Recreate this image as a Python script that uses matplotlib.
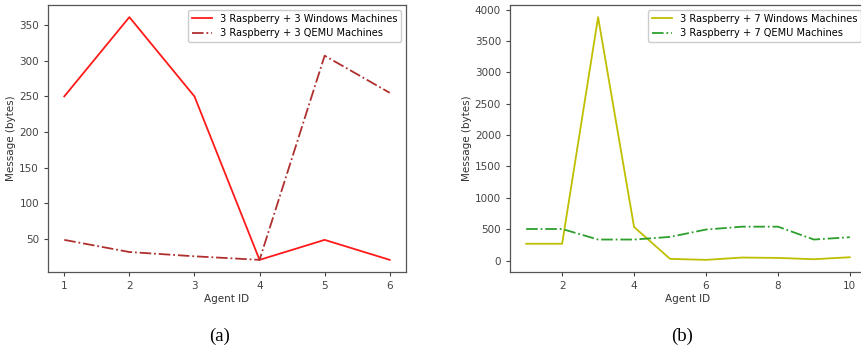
import matplotlib
matplotlib.use("Agg")
import matplotlib.pyplot as plt

# ---- data ----
agents_a = [1, 2, 3, 4, 5, 6]
win_a = [250, 361, 250, 21, 49, 21]
qemu_a = [49, 32, 26, 21, 307, 255]

agents_b = [1, 2, 3, 4, 5, 6, 7, 8, 9, 10]
win_b = [268, 268, 3880, 535, 27, 11, 48, 42, 21, 53]
qemu_b = [503, 503, 335, 335, 377, 494, 540, 540, 335, 372]

labels_a = ["3 Raspberry + 3 Windows Machines", "3 Raspberry + 3 QEMU Machines"]
labels_b = ["3 Raspberry + 7 Windows Machines", "3 Raspberry + 7 QEMU Machines"]

plt.rcParams['font.family'] = ['DejaVu Sans']
plt.rcParams['axes.edgecolor'] = '#555555'
plt.rcParams['xtick.color'] = '#444444'
plt.rcParams['ytick.color'] = '#444444'

W, H = 862, 348
fig = plt.figure(figsize=(W / 100, H / 100), dpi=100)

def box(x0, y0, x1, y1):
    return [x0 / W, 1 - y1 / H, (x1 - x0) / W, (y1 - y0) / H]

ax1 = fig.add_axes(box(48, 5, 406, 272))
ax2 = fig.add_axes(box(510, 5, 866, 272))

ax1.plot(agents_a, win_a, color='#ff1a1a', lw=1.3, label=labels_a[0])
ax1.plot(agents_a, qemu_a, color='#b03030', lw=1.3, ls='-.', label=labels_a[1])
ax1.set_xticks(agents_a)

ax2.plot(agents_b, win_b, color='#bfbf00', lw=1.3, label=labels_b[0])
ax2.plot(agents_b, qemu_b, color='#2ca02c', lw=1.3, ls='-.', label=labels_b[1])
ax2.set_xticks([2, 4, 6, 8, 10])
ax2.set_yticks(range(0, 4001, 500))

for ax in (ax1, ax2):
    ax.set_xlabel("Agent ID", fontsize=7.5, color='#333333', labelpad=2)
    ax.set_ylabel("Message (bytes)", fontsize=7.5, color='#333333', labelpad=2)
    ax.tick_params(labelsize=7.5, length=3, width=0.8)
    for s in ax.spines.values():
        s.set_linewidth(0.9)
    ax.legend(loc='upper right', fontsize=7.1, framealpha=1, edgecolor='#cccccc',
              fancybox=True, handlelength=2.0, borderpad=0.4, labelspacing=0.45)

fig.text(220 / W, 1 - 336 / H, "(a)", family='Liberation Serif', fontsize=13.5,
         ha='center', va='center')
fig.text(682 / W, 1 - 336 / H, "(b)", family='Liberation Serif', fontsize=13.5,
         ha='center', va='center')

fig.savefig("out.png", dpi=100)
